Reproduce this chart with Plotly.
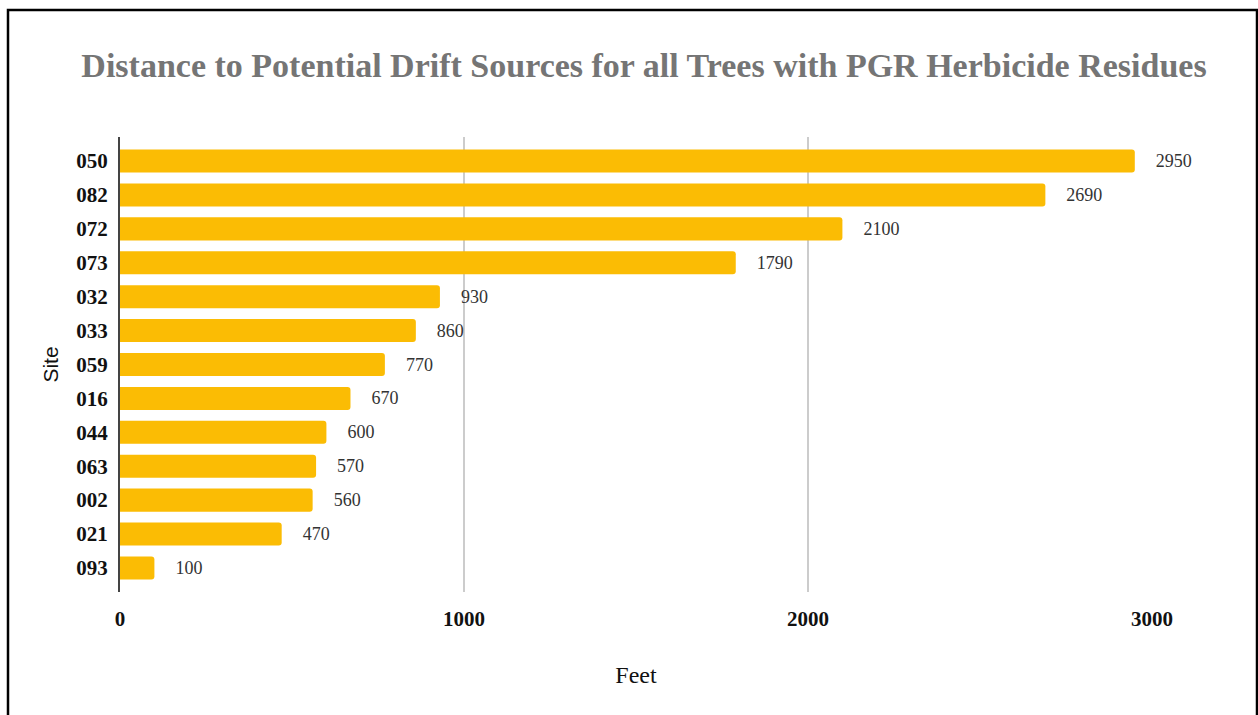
import plotly.graph_objects as go

sites = ["050", "082", "072", "073", "032", "033", "059", "016", "044", "063", "002", "021", "093"]
feet = [2950, 2690, 2100, 1790, 930, 860, 770, 670, 600, 570, 560, 470, 100]
x_ticks = [0, 1000, 2000, 3000]

W, H = 1258, 715
L, R, T, B = 120, 106, 137, 123
pw, ph = W - L - R, H - T - B

def px_x(px):
    return (px - L) / pw

def px_y(py):
    return (H - B - py) / ph

serif = "Liberation Serif"

fig = go.Figure(go.Bar(
    x=feet, y=sites, orientation="h",
    marker=dict(color="#FBBC04", line=dict(width=0), cornerradius=3),
    text=[f"\u00a0\u00a0\u00a0\u00a0{v}" for v in feet],
    textposition="outside",
    textfont=dict(family=serif, size=18, color="#333333"),
    cliponaxis=False,
    hoverinfo="skip",
))

fig.update_layout(
    width=W, height=H,
    margin=dict(l=L, r=R, t=T, b=B),
    paper_bgcolor="white", plot_bgcolor="white",
    bargap=0.32,
    showlegend=False,
    title=dict(
        text="<b>Distance to Potential Drift Sources for all Trees with PGR Herbicide Residues</b>",
        font=dict(family=serif, size=34, color="#757575"),
        x=px_x(644), xref="paper", xanchor="center",
        y=1 - 65 / H, yref="container", yanchor="middle",
    ),
    xaxis=dict(
        range=[0, 3000], tickvals=x_ticks, ticktext=[str(v) for v in x_ticks],
        showgrid=True, gridcolor="#cccccc", gridwidth=1.5,
        zeroline=False, showline=False,
        tickfont=dict(family=serif, size=21, color="#111111", weight="bold"),
        ticklabelstandoff=12,
        title=dict(text="Feet", font=dict(family=serif, size=24, color="#111111"), standoff=36),
    ),
    yaxis=dict(
        categoryorder="array", categoryarray=sites,
        range=[12.71, -0.71],
        showgrid=False, zeroline=False,
        showline=True, linecolor="#444444", linewidth=2, layer="below traces",
        tickfont=dict(family=serif, size=21, color="#111111", weight="bold"),
        ticklabelstandoff=6,
        title=dict(text="Site", font=dict(family="Liberation Sans", size=21, color="#111111"), standoff=12),
    ),
    shapes=[dict(
        type="rect", xref="paper", yref="paper",
        x0=px_x(8), x1=px_x(1257), y0=px_y(725), y1=px_y(10),
        line=dict(color="black", width=2.5), fillcolor="rgba(0,0,0,0)", layer="above",
    )],
)

fig.write_html("out.html")
